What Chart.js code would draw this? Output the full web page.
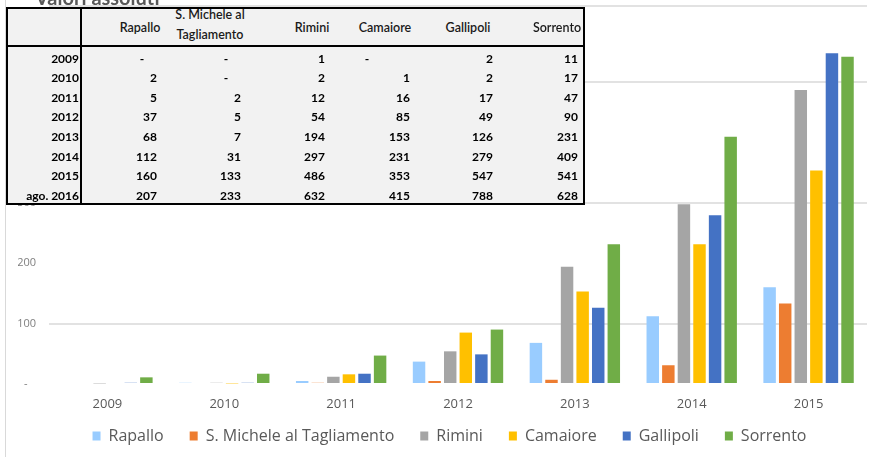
<!DOCTYPE html>
<html><head><meta charset="utf-8">
<script src="https://cdn.jsdelivr.net/npm/chart.js@4.4.1/dist/chart.umd.min.js"></script>
<style>
html,body{margin:0;padding:0;background:#fff;}
#wrap{position:relative;width:870px;height:457px;overflow:hidden;background:#fff;}
#c{position:absolute;left:0;top:0;}
#frame{position:absolute;left:5px;top:0;width:1px;height:457px;background:#d9d9d9;}
#title{position:absolute;left:35px;top:-13px;font:bold 20px Lato;color:#595959;line-height:20px;white-space:nowrap;}
#tbl{position:absolute;left:6px;top:7px;width:579px;height:198px;box-sizing:border-box;border:2px solid #000;background:#f2f2f2;}
.ln{position:absolute;background:#000;}
.cell{position:absolute;height:20px;line-height:20px;font-family:Lato;color:#000;white-space:nowrap;}
.hd{font-size:12.5px;font-weight:600;color:#1a1a1a;}
.num{font-size:12px;font-weight:700;}
.yr{font-size:12px;font-weight:700;}
</style></head><body>
<div id="wrap">
<div id="frame"></div>
<canvas id="c" width="870" height="457"></canvas>
<div id="title">Valori assoluti</div>
<div id="tbl"></div>
</div>
<script>
// ---- data ----
const years = ['2009','2010','2011','2012','2013','2014','2015','ago. 2016'];
const chartYears = ['2009','2010','2011','2012','2013','2014','2015'];
const cities = ['Rapallo','S. Michele al Tagliamento','Rimini','Camaiore','Gallipoli','Sorrento'];
const rapallo   = [null, 2,    5,  37,  68, 112, 160, 207];
const sMichele  = [null, null, 2,   5,   7,  31, 133, 233];
const rimini    = [1,    2,   12,  54, 194, 297, 486, 632];
const camaiore  = [null, 1,   16,  85, 153, 231, 353, 415];
const gallipoli = [2,    2,   17,  49, 126, 279, 547, 788];
const sorrento  = [11,  17,   47,  90, 231, 409, 541, 628];
const yTicks = [0, 100, 200, 300, 400, 500, 600];
const yMax = 625;

const seriesValues = [rapallo, sMichele, rimini, camaiore, gallipoli, sorrento];
const colors = ['#99CCFF','#ED7D31','#A5A5A5','#FFC000','#4472C4','#70AD47'];

// ---- table (layout) ----
const wrap = document.getElementById('wrap');
function addCell(text, cls, x, y, align, w) {
  const d = document.createElement('div');
  d.className = 'cell ' + cls;
  d.textContent = text;
  w = w || 200;
  if (align === 'right') { d.style.left = (x - w) + 'px'; d.style.textAlign = 'right'; }
  else { d.style.left = (x - w / 2) + 'px'; d.style.textAlign = 'center'; }
  d.style.width = w + 'px';
  d.style.top = (y - 10) + 'px';
  wrap.appendChild(d);
  return d;
}
function addLine(l, t, w, h) {
  const d = document.createElement('div');
  d.className = 'ln';
  d.style.left = l + 'px'; d.style.top = t + 'px';
  d.style.width = w + 'px'; d.style.height = h + 'px';
  wrap.appendChild(d);
}
addLine(6, 45, 579, 2);
addLine(80, 7, 2, 198);
const colRight = [157, 241, 325, 410, 493, 578];
const headCenter = [140, 210, 312, 385, 468, 557];
const dashOffset = [15, 15, 15, 43, 15, 15];
cities.forEach((name, i) => {
  if (name.length > 14) {
    const d = addCell(name, 'hd', headCenter[i], 15, 'center', 86);
    d.style.whiteSpace = 'normal';
    d.style.height = 'auto';
  } else {
    addCell(name, 'hd', headCenter[i], 27.5, 'center');
  }
});
years.forEach((yr, r) => {
  const cy = 58.5 + r * 19.6;
  addCell(yr, 'yr', 79, cy, 'right');
  seriesValues.forEach((vals, i) => {
    const v = vals[r];
    if (v === null) addCell('-', 'num', colRight[i] - dashOffset[i], cy, 'center', 20);
    else addCell(String(v), 'num', colRight[i], cy, 'right');
  });
});

// ---- chart ----
const gridValues = [100, 300, 500, yMax];
const legendNudge = {
  id: 'legendNudge',
  afterLayout(chart) {
    const l = chart.legend;
    if (!l) return;
    const lab = l.options.labels;
    const dy = l.top + lab.padding + lab.font.size / 2 - 436;
    const dx = 7;
    l.top -= dy; l.bottom -= dy;
    l.left += dx; l.right += dx;
  }
};
new Chart(document.getElementById('c'), {
  type: 'bar',
  data: {
    labels: chartYears,
    datasets: cities.map((name, i) => ({
      label: name,
      data: seriesValues[i].slice(0, chartYears.length),
      backgroundColor: colors[i],
      borderWidth: 0,
      barPercentage: 0.8,
      categoryPercentage: 0.8
    }))
  },
  plugins: [legendNudge],
  options: {
    responsive: false,
    animation: false,
    layout: { padding: { left: 18, right: 3, top: 0, bottom: -18.6 } },
    plugins: {
      tooltip: { enabled: false },
      legend: {
        position: 'bottom',
        labels: {
          font: { family: 'Open Sans', size: 16 },
          color: '#595959',
          boxWidth: 8,
          boxHeight: 9,
          padding: 26
        }
      }
    },
    scales: {
      x: {
        grid: { display: false, drawTicks: false },
        border: { display: false },
        ticks: { font: { family: 'Open Sans', size: 13 }, color: '#595959', padding: 12, maxRotation: 0 }
      },
      y: {
        min: 0,
        max: yMax,
        afterBuildTicks(s) { s.ticks = yTicks.concat([yMax]).map(v => ({ value: v })); },
        ticks: {
          font: { family: 'Open Sans', size: 11 },
          color: '#7f7f7f',
          padding: 13,
          callback: v => v === 0 ? '-   ' : (v === yMax ? '' : String(v))
        },
        grid: {
          drawTicks: false,
          lineWidth: 2,
          color: ctx => gridValues.includes(ctx.tick && ctx.tick.value) ? '#e2e2e2' : 'rgba(0,0,0,0)'
        },
        border: { display: false },
        afterFit(s) { s.width = 31; s.paddingTop = 6; s.paddingBottom = 0; }
      }
    }
  }
});
</script>
</body></html>
